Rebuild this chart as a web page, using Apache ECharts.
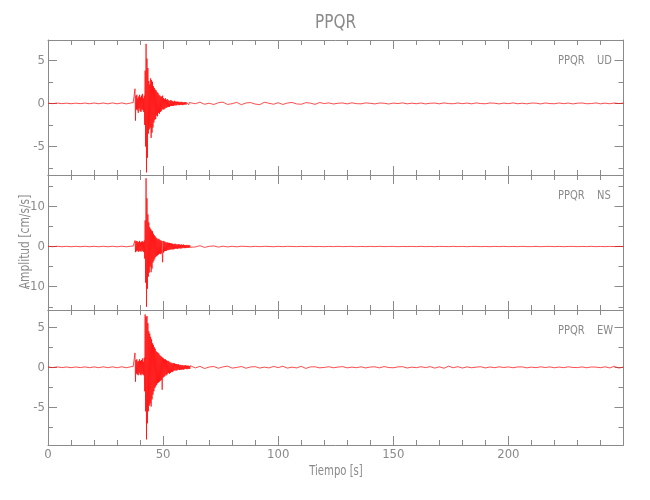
<!DOCTYPE html>
<html>
<head>
<meta charset="utf-8">
<script src="https://cdn.jsdelivr.net/npm/echarts@6/dist/echarts.min.js"></script>
<style>html,body{margin:0;padding:0;background:#fff}#c{width:650px;height:500px}</style>
</head>
<body>
<div id="c"></div>
<script>
// ---- Data ----
const station = 'PPQR';
const components = ['UD', 'NS', 'EW'];
const xMax = 250;
const yRanges = [[-8.3, 7.35], [-15.8, 17.8], [-9.7, 7.15]];
const yMajorTicks = [[-5, 0, 5], [-10, 0, 10], [-5, 0, 5]];
const yMinorTicks = [[-7.5, -2.5, 2.5], [-15, -5, 5, 15], [-7.5, -2.5, 2.5]];

// sample times: 0..36 every 2 s, 37..61.8 every 0.2 s, 62..250 every 2 s
const preStart = 0, preStep = 2, preCount = 19;
const actStart = 37, actStep = 0.2, actCount = 125;
const postStart = 62, postStep = 2, postCount = 95;

const udPre = [0.03,-0.03,0.04,-0.03,0.03,-0.04,0.03,-0.03,0.04,-0.04,
               0.05,-0.04,0.05,-0.05,0.06,-0.05,0.06,-0.06,0.05];
const udAct = [0.1,-0.1,0.15,-0.1,1.7,-2.0,
  0.9,-0.7,1.0,-0.8,0.6,-1.1,0.8,-0.6,1.0,-0.9,0.7,-1.0,0.9,-0.7,1.1,-0.8,0.6,-1.0,0.9,
  -2.5,3.8,-5.0,6.9,-8.0,5.2,-6.3,4.1,
  -3.5,2.6,-3.0,2.2,-2.8,
  2.9,-4.0,2.7,-3.4,2.5,-2.8,2.0,
  -2.2,1.8,-1.9,1.6,-1.8,1.5,-1.4,1.3,-1.5,1.2,-1.1,1.0,-1.2,0.9,-1.0,0.8,-0.9,0.8,-0.7,0.9,
  -0.7,0.6,-0.7,0.5,-0.6,0.6,-0.5,0.4,-0.5,0.5,-0.4,0.4,-0.4,0.3,-0.4,0.3,-0.3,0.4,-0.3,0.3,
  -0.3,0.25,-0.3,0.2,-0.25,0.3,-0.2,0.2,-0.25,0.2,
  -0.2,0.2,-0.15,0.2,-0.2,0.15,-0.2,0.15,-0.15,0.2,-0.15,0.15,-0.2,0.15,-0.15,0.1,-0.15,0.15,-0.1,0.15,
  -0.15,0.1,-0.1,0.15,-0.1,0.1,-0.15,0.1,-0.1,0.1];
const udPost = [0.1,-0.04,0.14,-0.1,0.02,-0.13,0.08,0.15,-0.12,-0.03,
  0.12,-0.15,0.05,0.1,-0.08,-0.14,0.13,0.02,-0.1,0.08,
  -0.12,0.04,0.11,-0.06,-0.1,0.09,0.03,-0.11,0.1,-0.02,
  0.06,-0.07,0.02,0.05,-0.06,0.07,-0.03,-0.05,0.06,0.01,
  -0.06,0.05,0.02,-0.07,0.04,-0.02,0.06,-0.05,0.03,-0.04,
  0.05,-0.06,0.02,0.04,-0.05,0.06,-0.02,-0.04,0.05,-0.03,
  0.04,-0.05,0.06,-0.02,-0.04,0.05,0.02,-0.06,0.04,-0.03,
  0.06,-0.04,0.02,-0.05,0.04,0.03,-0.06,0.05,-0.02,-0.04,
  0.05,-0.03,0.04,-0.06,0.02,0.05,-0.04,-0.02,0.06,-0.05,
  0.03,-0.04,0.05,-0.02,0.04];

const nsPre = [0.05,-0.05,0.06,-0.05,0.05,-0.06,0.05,-0.05,0.06,-0.05,
               0.06,-0.06,0.07,-0.06,0.07,-0.07,0.08,-0.07,0.08];
const nsAct = [0.1,-0.1,0.1,-0.1,1.5,-1.4,
  1.3,-1.2,1.4,-1.0,1.2,-1.3,1.1,-1.2,1.4,-1.1,1.0,-1.3,1.2,-1.0,1.3,-1.2,1.1,-1.4,1.5,
  -3.0,6.5,-9.0,17.0,-15.0,12.0,-10.5,8.0,
  -7.5,6.0,-6.5,4.8,-5.0,
  4.4,-6.4,4.0,-5.5,3.8,-4.0,3.2,
  -3.5,2.8,-3.0,2.5,-2.6,2.2,-2.4,2.0,-2.2,1.8,-2.0,1.9,-1.8,1.6,-1.9,1.5,-1.7,1.4,-1.6,-3.9,
  1.4,-1.5,1.3,-1.2,1.2,-1.1,1.0,-1.1,1.0,-0.9,1.0,-0.9,0.9,-0.8,0.9,-0.8,0.8,-0.7,0.8,-0.7,
  0.7,-0.7,0.6,-0.7,0.6,-0.6,0.7,-0.5,0.6,-0.5,
  0.5,-0.6,0.5,-0.5,0.6,-0.4,0.5,-0.5,0.4,-0.5,0.5,-0.4,0.4,-0.4,0.5,-0.3,0.4,-0.4,0.3,-0.4,
  0.4,-0.3,0.3,-0.3,0.4,-0.3,0.3,-0.3,0.3,-0.2];
const nsPost = [0.25,-0.1,0.2,-0.22,0.05,0.15,-0.15,0.08,-0.1,0.06,
  -0.08,0.07,0.02,-0.06,0.05,-0.04,0.05,0.01,-0.05,0.04,
  -0.03,0.04,0.01,-0.03,0.03,-0.02,0.04,-0.03,0.02,-0.04,
  0.03,-0.02,0.04,-0.03,0.01,0.03,-0.04,0.02,-0.03,0.03,
  -0.02,0.04,-0.03,0.02,0.03,-0.04,0.02,-0.02,0.03,-0.03,
  0.04,-0.03,0.02,-0.04,0.03,0.01,-0.03,0.04,-0.02,0.03,
  -0.04,0.02,0.03,-0.03,0.02,-0.04,0.03,-0.02,0.04,-0.03,
  0.02,-0.03,0.04,-0.02,-0.03,0.03,-0.04,0.02,0.03,-0.03,
  0.03,-0.04,0.02,0.03,-0.03,0.02,-0.02,0.04,-0.03,0.02,
  -0.03,0.03,-0.02,0.03,-0.02];

const ewPre = [0.04,-0.04,0.05,-0.04,0.04,-0.05,0.04,-0.04,0.05,-0.05,
               0.05,-0.05,0.06,-0.05,0.06,-0.06,0.07,-0.06,0.07];
const ewAct = [0.1,-0.1,0.1,-0.1,1.8,-1.8,
  0.9,-0.8,1.0,-0.9,0.7,-1.0,0.8,-0.7,1.0,-0.9,0.8,-1.0,0.9,-0.8,1.1,-0.9,0.7,-1.0,1.2,
  -3.0,6.6,-5.5,6.3,-9.0,6.4,-7.0,5.5,
  -5.5,4.5,-4.8,4.2,-4.5,
  3.8,-4.9,3.5,-4.0,3.0,-3.4,2.8,
  -3.0,2.5,-2.6,2.3,-2.4,2.0,-2.2,1.9,-2.0,1.8,-1.9,1.7,-1.8,1.5,-1.7,1.4,-1.6,1.3,-2.8,1.2,
  -1.3,1.1,-1.2,1.0,-1.1,1.0,-0.9,0.9,-1.0,0.8,-0.8,0.8,-0.7,0.7,-0.8,0.6,-0.7,0.6,-0.6,0.5,
  -0.6,0.5,-0.5,0.5,-0.4,0.5,-0.4,0.4,-0.4,0.4,
  -0.4,0.35,-0.3,0.4,-0.3,0.3,-0.35,0.3,-0.3,0.25,-0.3,0.3,-0.25,0.25,-0.3,0.2,-0.25,0.25,-0.2,0.25,
  -0.2,0.2,-0.25,0.2,-0.2,0.2,-0.2,0.15,-0.2,0.2];
const ewPost = [0.15,-0.08,0.12,-0.15,0.03,0.1,-0.12,0.05,0.14,-0.1,
  -0.02,0.1,-0.12,0.04,0.08,-0.1,0.02,-0.08,0.11,-0.04,
  0.13,-0.1,0.02,-0.08,0.12,-0.14,0.05,0.06,-0.07,-0.02,
  0.07,-0.06,0.03,0.08,-0.07,0.02,-0.05,0.06,-0.08,0.03,
  0.06,-0.07,0.09,-0.03,-0.06,0.05,0.08,-0.09,0.02,-0.05,
  0.07,-0.04,0.08,-0.1,0.06,-0.12,0.14,-0.06,0.08,-0.09,
  0.05,-0.06,0.02,0.07,-0.08,0.04,-0.05,0.06,-0.03,0.05,
  -0.06,0.04,0.05,-0.07,0.02,-0.05,0.06,-0.03,0.05,-0.06,
  0.03,-0.05,0.06,-0.02,-0.04,0.05,-0.06,0.04,0.02,-0.05,
  0.06,-0.08,0.12,-0.1,0.03];

// ---- Build ----
function times(start, step, n) { const a = []; for (let i = 0; i < n; i++) a.push(+(start + i * step).toFixed(2)); return a; }
const tAll = times(preStart, preStep, preCount).concat(times(actStart, actStep, actCount), times(postStart, postStep, postCount));
const traces = [udPre.concat(udAct, udPost), nsPre.concat(nsAct, nsPost), ewPre.concat(ewAct, ewPost)];

const GRAY = '#8a8a8a';
const FONT = "'Liberation Sans Narrow','DejaVu Sans Condensed','Liberation Sans',sans-serif";
const panelTops = [40, 175, 310];
const panelH = 135;
const gridLeft = 48, gridW = 575.5;

const grids = [], xAxes = [], yAxes = [], series = [], graphics = [];
for (let i = 0; i < 3; i++) {
  grids.push({ left: gridLeft, top: panelTops[i], width: gridW, height: panelH, containLabel: false });
  const xBase = {
    gridIndex: i, type: 'value', min: 0, max: xMax, interval: 50,
    axisLine: { show: true, onZero: false, lineStyle: { color: GRAY, width: 1 } },
    axisTick: { show: true, inside: true, length: 9, lineStyle: { color: GRAY } },
    minorTick: { show: true, splitNumber: 5, length: 5, lineStyle: { color: GRAY } },
    splitLine: { show: false }, minorSplitLine: { show: false }
  };
  xAxes.push(Object.assign({}, xBase, {
    position: 'bottom',
    axisLabel: { show: i === 2, margin: 3, color: GRAY, fontSize: 13, fontFamily: FONT,
      hideOverlap: false, showMaxLabel: true,
      formatter: function (v) { return v === xMax ? '' : String(v); } }
  }));
  xAxes.push(Object.assign({}, xBase, { position: 'top', axisLabel: { show: false } }));
  ['left', 'right'].forEach(function (pos) {
    yAxes.push({
      gridIndex: i, type: 'value', position: pos, min: yRanges[i][0], max: yRanges[i][1],
      axisLine: { show: true, onZero: false, lineStyle: { color: GRAY, width: 1 } },
      axisTick: { show: true, inside: true, length: 9, customValues: yMajorTicks[i], lineStyle: { color: GRAY } },
      axisLabel: { show: pos === 'left', margin: 3, color: GRAY, fontSize: 13, fontFamily: FONT, customValues: yMajorTicks[i] },
      splitLine: { show: false }
    });
    yAxes.push({
      gridIndex: i, type: 'value', position: pos, min: yRanges[i][0], max: yRanges[i][1],
      axisLine: { show: false, onZero: false },
      axisTick: { show: true, inside: true, length: 5, customValues: yMinorTicks[i], lineStyle: { color: GRAY } },
      axisLabel: { show: false },
      splitLine: { show: false }
    });
  });
  series.push({
    type: 'line', xAxisIndex: 2 * i, yAxisIndex: 4 * i,
    data: tAll.map(function (t, k) { return [t, traces[i][k]]; }),
    symbol: 'none', showSymbol: false, animation: false, clip: true,
    lineStyle: { color: '#ff0000', width: 0.7 }
  });
  graphics.push({ type: 'text', x: 558, y: panelTops[i] + 21, scaleX: 0.85,
    style: { text: station, fill: GRAY, font: '13px ' + FONT, align: 'left', verticalAlign: 'middle' } });
  graphics.push({ type: 'text', x: 597, y: panelTops[i] + 21, scaleX: 0.85,
    style: { text: components[i], fill: GRAY, font: '13px ' + FONT, align: 'left', verticalAlign: 'middle' } });
}
graphics.push({ type: 'text', x: 335.5, y: 22.5, scaleX: 0.85,
  style: { text: station, fill: GRAY, font: '20px ' + FONT, align: 'center', verticalAlign: 'middle' } });
graphics.push({ type: 'text', x: 336, y: 471, scaleX: 0.8,
  style: { text: 'Tiempo [s]', fill: GRAY, font: '14px ' + FONT, align: 'center', verticalAlign: 'middle' } });
graphics.push({ type: 'text', x: 25, y: 242, rotation: Math.PI / 2, scaleX: 0.85,
  style: { text: 'Amplitud [cm/s/s]', fill: GRAY, font: '14px ' + FONT, align: 'center', verticalAlign: 'middle' } });

const chart = echarts.init(document.getElementById('c'), null, { renderer: 'canvas' });
chart.setOption({
  backgroundColor: '#ffffff',
  animation: false,
  grid: grids, xAxis: xAxes, yAxis: yAxes, series: series, graphic: graphics
});
</script>
</body>
</html>
